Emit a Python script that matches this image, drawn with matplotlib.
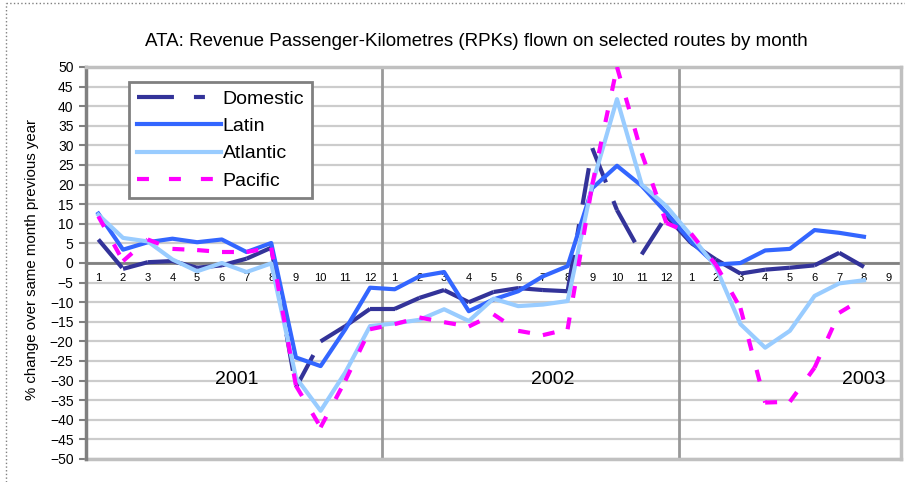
import matplotlib
matplotlib.use('Agg')
import matplotlib.pyplot as plt
import numpy as np
from matplotlib.lines import Line2D

plt.rcParams['font.family'] = ['Liberation Sans', 'DejaVu Sans']
plt.rcParams['lines.scale_dashes'] = False

# ---------------- data ----------------
months = [str(m) for m in range(1, 13)] * 2 + [str(m) for m in range(1, 10)]
years = ['2001', '2002', '2003']
year_label_pos = [5.6, 18.4, 31.0]

domestic = [6.0, -1.5, 0.2, 0.5, -1.2, -0.6, 1.1, 3.9, -31.8, -20.0, -16.1, -11.7,
            -11.7, -8.9, -6.9, -10.0, -7.4, -6.4, -6.9, -7.2, 29.3, 13.5, 2.2, 12.0,
            5.1, 0.9, -2.7, -1.7, -1.2, -0.6, 2.6, -1.0, np.nan]
latin = [12.6, 3.4, 5.3, 6.2, 5.3, 6.0, 2.8, 5.1, -24.1, -26.3, -16.9, -6.3,
         -6.7, -3.4, -2.3, -12.3, -9.3, -7.2, -3.4, -0.8, 19.1, 24.8, 19.7, 12.8,
         5.5, -0.4, 0.0, 3.2, 3.6, 8.4, 7.7, 6.7, np.nan]
atlantic = [12.3, 6.4, 5.5, 0.9, -2.1, 0.0, -2.3, -0.1, -29.2, -37.7, -27.9, -16.1,
            -15.4, -14.5, -11.8, -14.8, -9.1, -11.0, -10.6, -9.7, 20.0, 41.8, 20.0, 14.5,
            7.0, -1.0, -15.6, -21.6, -17.3, -8.4, -5.2, -4.4, np.nan]
pacific = [11.9, 0.5, 6.0, 3.6, 3.3, 2.8, 2.8, 3.9, -31.3, -41.9, -30.0, -16.9,
           -15.6, -13.9, -15.1, -16.2, -13.1, -17.3, -18.4, -16.9, 20.0, 50.0, 28.0, 10.2,
           7.5, -0.4, -11.5, -35.6, -35.4, -26.7, -12.7, -8.9, np.nan]

series_names = ['Domestic', 'Latin', 'Atlantic', 'Pacific']
series_vals = [domestic, latin, atlantic, pacific]
colors = ['#333399', '#3366FF', '#99CCFF', '#FF00FF']
# dash patterns in points (None = solid); Excel restarts the pattern on every segment
dash_patterns = [(26.6, 14.4, 7.9, 14.4), None, None, (8.6, 14.4)]

title = 'ATA: Revenue Passenger-Kilometres (RPKs) flown on selected routes by month'
ylabel = '% change over same month previous year'

# ---------------- figure ----------------
W, H = 905, 482
fig = plt.figure(figsize=(W / 100, H / 100), dpi=100)
ax = fig.add_axes([86 / W, 23 / H, 815 / W, 392 / H])

x = np.arange(len(months))
ax.set_xlim(-0.5, len(months) - 0.5)
ax.set_ylim(-50, 50)

# grid
ax.set_yticks(np.arange(-50, 51, 5))
ax.grid(axis='y', color='#CCCCCC', lw=1.6, zorder=0)
ax.set_axisbelow(True)
for xv in [11.5, 23.5]:
    ax.axvline(xv, color='#999999', lw=2, zorder=1)

# spines
for s in ['top', 'right']:
    ax.spines[s].set_color('#C0C0C0')
    ax.spines[s].set_linewidth(2.5)
ax.spines['left'].set_color('#808080')
ax.spines['left'].set_linewidth(2.5)
ax.spines['bottom'].set_position(('data', 0))
ax.spines['bottom'].set_color('#808080')
ax.spines['bottom'].set_linewidth(2)
ax.spines['bottom'].set_zorder(1.5)
ax.axhline(-50, color='#C0C0C0', lw=2.5, clip_on=False, zorder=1)

ax.set_xticks(x, months)
ax.tick_params(axis='x', length=0, pad=7.5, labelsize=8)
ax.tick_params(axis='y', length=5, width=1.5, color='#808080', pad=4, labelsize=10,
               direction='out')

# lines
handles = []
for k, (name, vals, col, dp) in enumerate(zip(series_names, series_vals, colors, dash_patterns)):
    v = np.array(vals, dtype=float)
    z = 3 + k
    if dp is None:
        ax.plot(x, v, color=col, lw=3, solid_joinstyle='round', zorder=z)
        h = Line2D([], [], color=col, lw=3)
    else:
        for i in range(len(v) - 1):
            if np.isnan(v[i]) or np.isnan(v[i + 1]):
                continue
            ax.plot(x[i:i + 2], v[i:i + 2], color=col, lw=3, dashes=dp,
                    dash_capstyle='butt', zorder=z)
        h = Line2D([], [], color=col, lw=3, dashes=dp, dash_capstyle='butt')
    handles.append(h)

# year labels
for yr, xp in zip(years, year_label_pos):
    ax.text(xp, -29.6, yr, ha='center', va='center', fontsize=14, zorder=8)

leg = ax.legend(handles, series_names, loc='upper left', bbox_to_anchor=(0.0528, 0.962),
                frameon=True, fancybox=False, edgecolor='#808080', framealpha=1,
                fontsize=14, handlelength=4.3, handletextpad=0.1, labelspacing=0.5,
                borderpad=0.42, borderaxespad=0)
leg.get_frame().set_linewidth(2)
leg.set_zorder(10)

ax.set_ylabel(ylabel, fontsize=10.8)
ax.yaxis.set_label_coords(-0.058, 0.51)

fig.text(476 / W, 1 - 41 / H, title, ha='center', va='center', fontsize=13.5)

# outer dotted border
fig.add_artist(Line2D([6 / W, 6 / W], [0, 1 - 3 / H], color='#808080', lw=1, ls=':',
                      transform=fig.transFigure))
fig.add_artist(Line2D([6 / W, 1], [1 - 3 / H, 1 - 3 / H], color='#808080', lw=1, ls=':',
                      transform=fig.transFigure))

fig.savefig('out.png', dpi=100)
